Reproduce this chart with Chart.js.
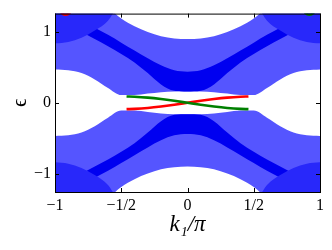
<!DOCTYPE html>
<html>
<head>
<meta charset="utf-8">
<script src="https://cdn.jsdelivr.net/npm/chart.js@4.4.0/dist/chart.umd.min.js"></script>
<style>
  html, body { margin: 0; padding: 0; background: #fff; }
</style>
</head>
<body>
<canvas id="bands" width="332" height="250"></canvas>
<script>
// k1/pi sample points
const kGrid = [-1, -0.9, -0.8, -0.7, -0.6, -0.5, -0.4, -0.3, -0.2, -0.1, 0, 0.1, 0.2, 0.3, 0.4, 0.5, 0.6, 0.7, 0.8, 0.9, 1];

// bulk continuum, upper half (edges)
const upperBottom = [0.47, 0.46, 0.42, 0.33, 0.21, 0.11, 0.11, 0.13, 0.15, 0.16, 0.16, 0.16, 0.15, 0.13, 0.11, 0.11, 0.21, 0.33, 0.42, 0.46, 0.47];
const upperTop = [1.5, 1.5, 1.5, 1.5, 1.35, 1.19, 1.08, 1.0, 0.94, 0.91, 0.9, 0.91, 0.94, 1.0, 1.08, 1.19, 1.35, 1.5, 1.5, 1.5, 1.5];
// bulk continuum, lower half
const lowerTop = [-0.47, -0.46, -0.42, -0.33, -0.21, -0.11, -0.11, -0.13, -0.15, -0.16, -0.16, -0.16, -0.15, -0.13, -0.11, -0.11, -0.21, -0.33, -0.42, -0.46, -0.47];
const lowerBottom = [-1.5, -1.5, -1.5, -1.5, -1.35, -1.19, -1.08, -1.0, -0.94, -0.91, -0.9, -0.91, -0.94, -1.0, -1.08, -1.19, -1.35, -1.5, -1.5, -1.5, -1.5];

// denser corners
const cornerLeftK = [-1, -0.9, -0.8, -0.7, -0.6, -0.55];
const cornerRightK = [0.55, 0.6, 0.7, 0.8, 0.9, 1];
const cornerUpLeft = [0.84, 0.86, 0.92, 1.02, 1.16, 1.3];
const cornerUpRight = [1.3, 1.16, 1.02, 0.92, 0.86, 0.84];
const cornerLoLeft = [-0.84, -0.86, -0.92, -1.02, -1.16, -1.3];
const cornerLoRight = [-1.3, -1.16, -1.02, -0.92, -0.86, -0.84];
const cornerFarUp = [1.5, 1.5, 1.5, 1.5, 1.5, 1.5];
const cornerFarLo = [-1.5, -1.5, -1.5, -1.5, -1.5, -1.5];

// dense V-shaped strip, reaching down to the gap in the middle
const stripUpLow = [1.2, 1.1, 1.0, 0.9, 0.8, 0.69, 0.57, 0.42, 0.26, 0.17, 0.16, 0.17, 0.26, 0.42, 0.57, 0.69, 0.8, 0.9, 1.0, 1.1, 1.2];
const stripUpHigh = [1.36, 1.26, 1.16, 1.06, 0.96, 0.85, 0.74, 0.63, 0.53, 0.46, 0.44, 0.46, 0.53, 0.63, 0.74, 0.85, 0.96, 1.06, 1.16, 1.26, 1.36];
const stripLoHigh = [-1.2, -1.1, -1.0, -0.9, -0.8, -0.69, -0.57, -0.42, -0.26, -0.17, -0.16, -0.17, -0.26, -0.42, -0.57, -0.69, -0.8, -0.9, -1.0, -1.1, -1.2];
const stripLoLow = [-1.36, -1.26, -1.16, -1.06, -0.96, -0.85, -0.74, -0.63, -0.53, -0.46, -0.44, -0.46, -0.53, -0.63, -0.74, -0.85, -0.96, -1.06, -1.16, -1.26, -1.36];

// edge states in the gap
const edgeK = [-0.46, -0.4, -0.3, -0.2, -0.1, 0, 0.1, 0.2, 0.3, 0.4, 0.46];
const greenState = [0.09, 0.086, 0.073, 0.053, 0.028, 0, -0.028, -0.053, -0.073, -0.086, -0.09];
const redState = [-0.09, -0.086, -0.073, -0.053, -0.028, 0, 0.028, 0.053, 0.073, 0.086, 0.09];
// bits of the edge states peeking in at the top
const redTopK = [-0.99, -0.95, -0.92, -0.89, -0.85];
const redTop = [1.4, 1.27, 1.245, 1.27, 1.4];
const greenTopK = [0.85, 0.89, 0.92, 0.95, 0.99];
const greenTop = [1.4, 1.27, 1.245, 1.27, 1.4];

// axes
const xTicks = [-1, -0.5, 0, 0.5, 1];
const xTickLabels = ['\u22121', '\u22121/2', '0', '1/2', '1'];
const yTicks = [-1, 0, 1];
const yTickLabels = ['\u22121', '0', '1'];

const baseBlue = 'rgb(85,85,255)';
const cornerBlue = 'rgb(40,40,250)';
const denseBlue = 'rgb(0,0,240)';

function pts(xs, ys) {
    return xs.map((x, i) => ({ x: x, y: ys[i] }));
}

const datasets = [];

// push a filled region between two curves
function addRegion(xs, low, high, color, order) {
    const idx = datasets.length;
    datasets.push({
        data: pts(xs, low),
        borderColor: 'transparent',
        pointRadius: 0,
        fill: false,
        clip: 0,
        order: order,
        cubicInterpolationMode: 'monotone'
    });
    datasets.push({
        data: pts(xs, high),
        borderColor: 'transparent',
        backgroundColor: color,
        pointRadius: 0,
        fill: idx,
        clip: 0,
        order: order,
        cubicInterpolationMode: 'monotone'
    });
}

function addLine(xs, ys, color, width, order) {
    datasets.push({
        data: pts(xs, ys),
        borderColor: color,
        borderWidth: width,
        pointRadius: 0,
        fill: false,
        clip: 0,
        order: order,
        cubicInterpolationMode: 'monotone'
    });
}

addRegion(kGrid, upperBottom, upperTop, baseBlue, 10);
addRegion(kGrid, lowerBottom, lowerTop, baseBlue, 10);
addRegion(cornerLeftK, cornerUpLeft, cornerFarUp, cornerBlue, 8);
addRegion(cornerRightK, cornerUpRight, cornerFarUp, cornerBlue, 8);
addRegion(cornerLeftK, cornerFarLo, cornerLoLeft, cornerBlue, 8);
addRegion(cornerRightK, cornerFarLo, cornerLoRight, cornerBlue, 8);
addRegion(kGrid, stripUpLow, stripUpHigh, denseBlue, 8);
addRegion(kGrid, stripLoLow, stripLoHigh, denseBlue, 8);

addLine(edgeK, greenState, 'rgb(0,128,0)', 2.6, 1);
addLine(edgeK, redState, 'rgb(255,0,0)', 2.6, 1);
addLine(redTopK, redTop, 'rgb(255,0,0)', 2.6, 1);
addLine(greenTopK, greenTop, 'rgb(0,128,0)', 2.6, 1);

// frame and inward ticks like the original figure
const framePlugin = {
    id: 'frame',
    afterDatasetsDraw(chart) {
        const { ctx, chartArea: a, scales } = chart;
        ctx.save();
        ctx.strokeStyle = '#000';
        ctx.lineWidth = 1;
        xTicks.forEach(v => {
            const px = Math.round(scales.x.getPixelForValue(v)) + 0.5;
            ctx.beginPath();
            ctx.moveTo(px, a.bottom); ctx.lineTo(px, a.bottom - 4);
            ctx.moveTo(px, a.top); ctx.lineTo(px, a.top + 4);
            ctx.stroke();
        });
        yTicks.forEach(v => {
            const py = Math.round(scales.y.getPixelForValue(v)) + 0.5;
            ctx.beginPath();
            ctx.moveTo(a.left, py); ctx.lineTo(a.left + 4, py);
            ctx.moveTo(a.right, py); ctx.lineTo(a.right - 4, py);
            ctx.stroke();
        });
        ctx.strokeRect(a.left + 0.5, a.top + 0.5, a.right - a.left, a.bottom - a.top);
        ctx.restore();
    }
};

new Chart(document.getElementById('bands'), {
    type: 'line',
    data: { datasets: datasets },
    plugins: [framePlugin],
    options: {
        responsive: false,
        animation: false,
        layout: { padding: { top: 7, right: 12, left: 0, bottom: 0 } },
        plugins: { legend: { display: false }, tooltip: { enabled: false } },
        scales: {
            x: {
                type: 'linear',
                min: -1,
                max: 1,
                afterFit: (s) => { s.height = 58; },
                afterBuildTicks: (s) => { s.ticks = xTicks.map(v => ({ value: v })); },
                grid: { display: false, drawTicks: false },
                border: { display: false },
                ticks: {
                    padding: 4,
                    color: '#000',
                    font: { family: "'Liberation Serif', 'DejaVu Serif', serif", size: 16 },
                    callback: (v) => xTickLabels[xTicks.indexOf(v)]
                },
                title: {
                    display: true,
                    text: 'k\u2081/\u03c0',
                    color: '#000',
                    font: { family: "'Liberation Serif', 'DejaVu Serif', serif", size: 23, style: 'italic' },
                    padding: { top: 0, bottom: 11 }
                }
            },
            y: {
                type: 'linear',
                min: -1.26,
                max: 1.26,
                afterFit: (s) => { s.width = 55; },
                afterBuildTicks: (s) => { s.ticks = yTicks.map(v => ({ value: v })); },
                grid: { display: false, drawTicks: false },
                border: { display: false },
                ticks: {
                    padding: 4,
                    color: '#000',
                    font: { family: "'Liberation Serif', 'DejaVu Serif', serif", size: 16 },
                    callback: (v) => yTickLabels[yTicks.indexOf(v)]
                },
                title: {
                    display: true,
                    text: '\u03f5',
                    color: '#000',
                    font: { family: "'Liberation Serif', 'DejaVu Serif', serif", size: 21 },
                    padding: { top: 8, bottom: 0 }
                }
            }
        }
    }
});
</script>
</body>
</html>
